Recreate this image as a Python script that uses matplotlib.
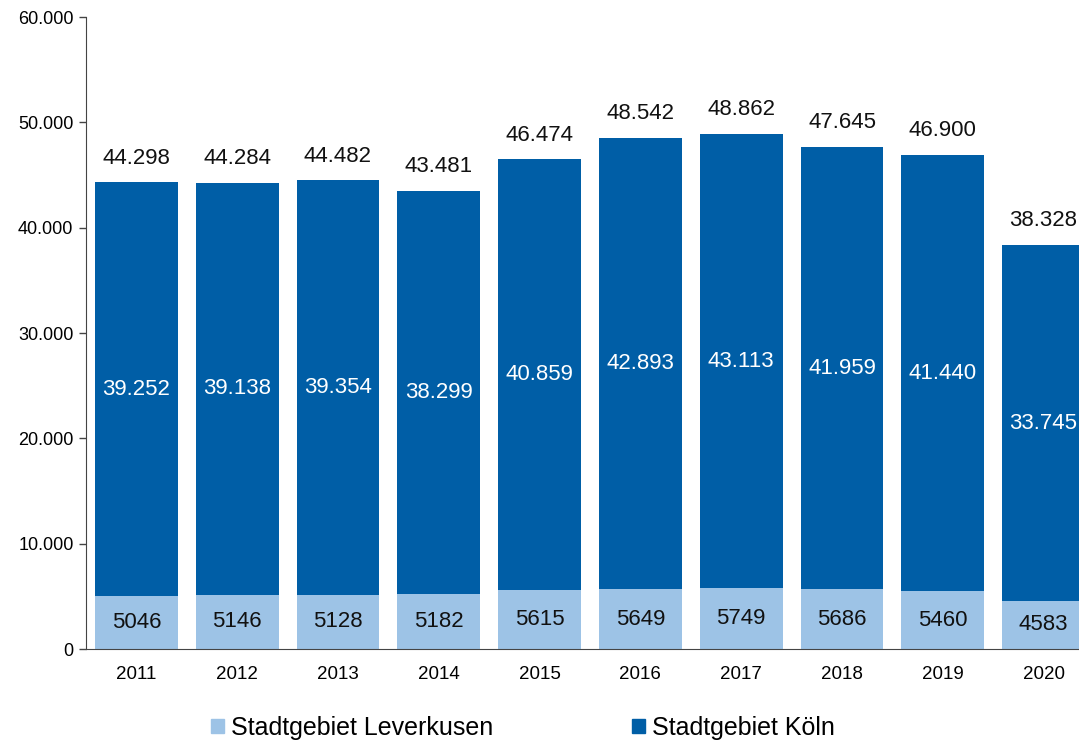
import matplotlib
matplotlib.use("Agg")
import matplotlib.pyplot as plt
from matplotlib.patches import Patch

years = ["2011", "2012", "2013", "2014", "2015", "2016", "2017", "2018", "2019", "2020"]
leverkusen = [5046, 5146, 5128, 5182, 5615, 5649, 5749, 5686, 5460, 4583]
koeln = [39252, 39138, 39354, 38299, 40859, 42893, 43113, 41959, 41440, 33745]
totals = [44298, 44284, 44482, 43481, 46474, 48542, 48862, 47645, 46900, 38328]

C_LEV = "#9DC3E6"
C_KOELN = "#005EA6"

plt.rcParams["font.family"] = ["Liberation Sans", "DejaVu Sans"]


def de(v):
    return f"{v:,}".replace(",", ".")


fig = plt.figure(figsize=(10.79, 7.43), dpi=100)
ax = fig.add_axes([86 / 1079, 1 - 649 / 743, 1008 / 1079, (649 - 17) / 743])

x = list(range(len(years)))
w = 0.82
ax.bar(x, leverkusen, width=w, color=C_LEV, zorder=2)
ax.bar(x, koeln, width=w, bottom=leverkusen, color=C_KOELN, zorder=2)

for xi, lv, kv, tv in zip(x, leverkusen, koeln, totals):
    ax.text(xi, lv / 2, str(lv), ha="center", va="center", fontsize=16, color="#111111")
    ax.text(xi, lv + kv / 2, de(kv), ha="center", va="center", fontsize=16, color="white")
    ax.annotate(de(tv), (xi, tv), xytext=(0, 10), textcoords="offset points",
                ha="center", va="bottom", fontsize=16, color="#111111")

ax.set_xlim(-0.5, len(years) - 0.5)
ax.set_ylim(0, 60000)
ax.set_yticks(range(0, 60001, 10000))
ax.set_yticklabels([de(v) for v in range(0, 60001, 10000)], fontsize=13)
ax.set_xticks(x)
ax.set_xticklabels(years, fontsize=13.5)
ax.tick_params(axis="x", length=0, pad=12)
ax.tick_params(axis="y", length=5, width=1, color="#444444", pad=4)
for s in ("top", "right"):
    ax.spines[s].set_visible(False)
ax.spines["left"].set_color("#444444")
ax.spines["bottom"].set_color("#444444")

handles = [Patch(color=C_LEV, label="Stadtgebiet Leverkusen"),
           Patch(color=C_KOELN, label="Stadtgebiet Köln")]
fig.legend(handles=handles, loc="center left", bbox_to_anchor=(191 / 1079, 1 - 728 / 743),
           ncol=2, frameon=False, fontsize=18, handlelength=0.5, handleheight=0.5,
           handletextpad=0.3, columnspacing=5.55, borderpad=0.3)

fig.savefig("out.png", dpi=100)
